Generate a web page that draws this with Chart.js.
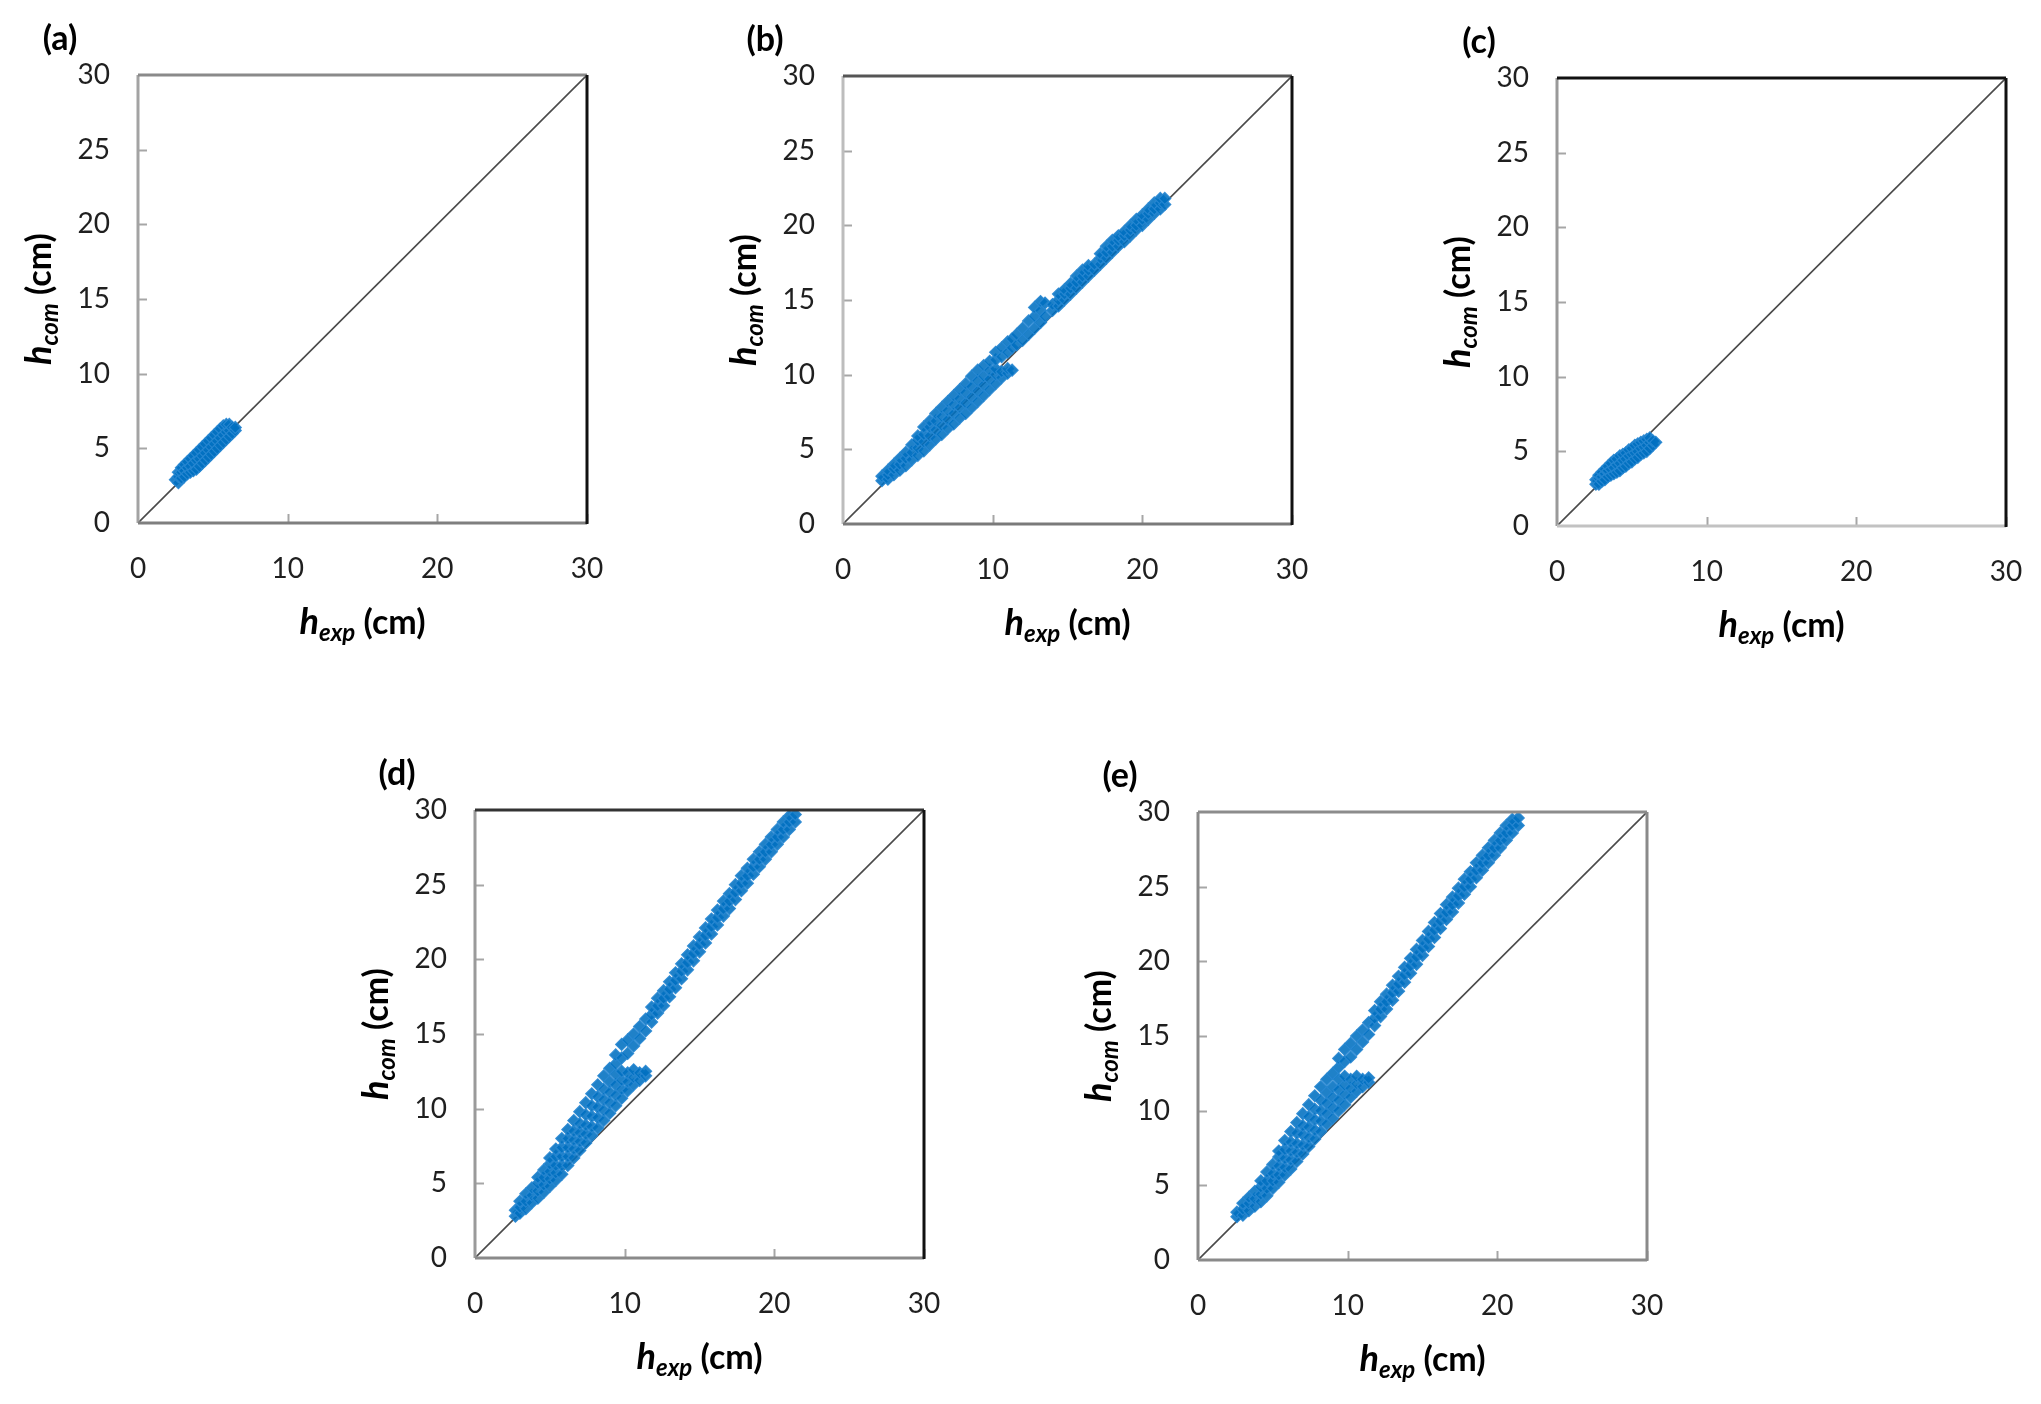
<!DOCTYPE html>
<html>
<head>
<meta charset="utf-8">
<script src="https://cdn.jsdelivr.net/npm/chart.js@4.4.1/dist/chart.umd.min.js"></script>
<style>
  html, body { margin:0; padding:0; background:#fff; }
  body { width:2041px; height:1404px; position:relative; overflow:hidden; }
  canvas { position:absolute; }
</style>
</head>
<body>
<canvas id="ch-a"></canvas>
<canvas id="ch-b"></canvas>
<canvas id="ch-c"></canvas>
<canvas id="ch-d"></canvas>
<canvas id="ch-e"></canvas>
<script>
// ====================== DATA ======================
const xTicks = [0, 10, 20, 30];
const yTicks = [0, 5, 10, 15, 20, 25, 30];
const lineExp = [0, 30];           // 1:1 line
const lineCom = [0, 30];

// each hExp column holds the hCom values plotted at that hExp
const expA = [2.5, 2.7, 2.9, 3.1, 3.3, 3.5, 3.7, 3.9, 4.1, 4.3, 4.5, 4.7, 4.9, 5.1, 5.3, 5.5, 5.7, 5.9, 6.1, 6.3, 6.5];
const comA = [[2.9], [2.7,3.1,3.4], [3.0,3.4,3.7], [3.1,3.5,3.9], [3.3,3.7,4.1], [3.4,3.8,4.3], [3.5,4.0,4.5],
  [3.6,4.2,4.7], [3.8,4.3,4.9], [4.0,4.5,5.1], [4.2,4.7,5.3], [4.4,4.9,5.5], [4.6,5.1,5.7], [4.8,5.3,5.9],
  [5.0,5.5,6.1], [5.2,5.7,6.3], [5.4,5.9,6.5], [5.6,6.1,6.6], [5.8,6.2,6.6], [6.0,6.4], [6.2,6.4]];

const expB = [2.6, 3.0, 3.4, 3.8, 4.2, 4.6, 5.0, 5.4, 5.8, 6.2, 6.6, 7.0, 7.4, 7.8, 8.2, 8.6, 9.0, 9.4, 9.8, 10.2,
  10.6, 11.0, 11.3, 11.6, 12.0, 12.4, 12.8, 13.2, 13.5, 14.0, 14.4, 14.8, 15.2, 15.6, 16.0, 16.4, 16.8, 17.2,
  17.6, 18.0, 18.4, 18.8, 19.2, 19.6, 20.0, 20.4, 20.8, 21.2, 21.5];
const comB = [[2.9,3.2], [3.0,3.3,3.6], [3.3,3.7,4.0], [3.6,4.0,4.4], [3.9,4.4,4.8], [4.3,4.8,5.3], [4.6,5.1,5.6,5.9],
  [4.9,5.5,6.0,6.5], [5.3,5.9,6.5,6.9], [5.7,6.3,6.9,7.4], [6.0,6.6,7.2,7.8], [6.4,7.0,7.6,8.2], [6.7,7.4,8.0,8.6],
  [7.1,7.8,8.4,9.0], [7.4,8.1,8.8,9.4], [7.8,8.5,9.2,9.9], [8.2,8.9,9.6,10.3], [8.6,9.3,9.9,10.6],
  [9.0,9.7,10.3,10.9], [9.4,10.0,10.4,11.0,11.5], [9.8,10.2,11.2,11.8], [10.1,10.4,11.5,12.2], [10.3,11.8,12.4],
  [12.0,12.7], [12.3,13.1], [12.7,13.6], [13.1,13.9,14.5], [13.5,14.3,14.9], [13.9,14.8], [14.3,14.7],
  [14.6,15.0,15.4], [15.0,15.4,15.7], [15.4,15.8,16.1], [15.8,16.2,16.6], [16.2,16.6,17.0], [16.6,17.0,17.3],
  [17.0,17.4], [17.4,17.8,18.1], [17.8,18.2,18.6], [18.2,18.6,19.0], [18.6,19.0,19.3], [18.9,19.3,19.6],
  [19.3,19.7,20.0], [19.7,20.0,20.4], [20.0,20.4,20.7], [20.4,20.8,21.1], [20.8,21.1,21.5], [21.1,21.5,21.8],
  [21.4,21.8]];

const expC = [2.6, 2.8, 3.0, 3.2, 3.4, 3.6, 3.8, 4.0, 4.2, 4.4, 4.6, 4.8, 5.0, 5.2, 5.4, 5.6, 5.8, 6.0, 6.2, 6.4, 6.6];
const comC = [[2.8,3.1], [2.8,3.2,3.4], [3.0,3.3,3.6], [3.1,3.5,3.8], [3.3,3.7,4.0], [3.4,3.8,4.2], [3.5,3.9,4.4],
  [3.6,4.1,4.5], [3.7,4.2,4.7], [3.9,4.4,4.8], [4.0,4.5,4.9], [4.2,4.7,5.1], [4.3,4.8,5.2], [4.5,4.9,5.4],
  [4.6,5.0,5.5], [4.8,5.2,5.6], [4.9,5.3,5.7], [5.0,5.4,5.8], [5.2,5.6,5.9], [5.4,5.7], [5.6]];

const expD = [2.7, 3.0, 3.4, 3.8, 4.2, 4.6, 5.0, 5.4, 5.8, 6.2, 6.6, 7.0, 7.4, 7.8, 8.2, 8.6, 9.0, 9.4, 9.8, 10.2,
  10.6, 11.0, 11.4, 11.8, 12.2, 12.6, 13.0, 13.4, 13.8, 14.2, 14.6, 15.0, 15.4, 15.8, 16.2, 16.6, 17.0, 17.4,
  17.8, 18.2, 18.6, 19.0, 19.4, 19.8, 20.2, 20.6, 21.0, 21.4];
const comD = [[2.8,3.2], [3.0,3.4,3.8], [3.3,3.8,4.3], [3.7,4.2,4.7], [4.0,4.5,5.0,5.4], [4.4,4.9,5.4,5.9],
  [4.8,5.3,5.8,6.3,6.7], [5.2,5.7,6.2,6.8,7.3], [5.6,6.2,6.8,7.4,8.0], [6.2,6.8,7.4,8.0,8.6],
  [6.7,7.3,7.9,8.5,9.2], [7.2,7.8,8.4,9.0,9.8], [7.7,8.3,8.9,9.6,10.4], [8.2,8.8,9.5,10.2,11.0],
  [8.7,9.4,10.1,10.8,11.6], [9.2,9.9,10.6,11.3,12.2], [9.7,10.4,11.1,11.8,12.7], [10.2,10.9,11.6,12.3,13.0,13.6],
  [10.7,11.3,11.9,12.5,13.4,14.3], [11.2,11.8,12.4,13.7,14.6], [11.6,12.1,12.6,14.2,15.0], [11.9,12.4,14.7,15.5],
  [12.2,12.5,15.2,16.0], [15.8,16.3,16.8], [16.4,16.9,17.4], [16.9,17.4,17.9], [17.5,18.0,18.5], [18.1,18.6,19.1],
  [18.7,19.2,19.7], [19.3,19.8,20.3], [19.9,20.4,20.9], [20.5,21.0,21.5], [21.1,21.6,22.1], [21.7,22.2,22.7],
  [22.3,22.8,23.3], [22.9,23.4,23.9], [23.4,23.9,24.4], [24.0,24.5,25.0], [24.6,25.1,25.6], [25.1,25.6,26.1],
  [25.7,26.2,26.7], [26.2,26.7,27.2], [26.7,27.2,27.7], [27.2,27.7,28.2], [27.7,28.2,28.7], [28.2,28.7,29.2],
  [28.7,29.2,29.6], [29.2,29.7]];

const expE = [2.6, 3.0, 3.4, 3.8, 4.2, 4.6, 5.0, 5.4, 5.8, 6.2, 6.6, 7.0, 7.4, 7.8, 8.2, 8.6, 9.0, 9.4, 9.8, 10.2,
  10.6, 11.0, 11.4, 11.8, 12.2, 12.6, 13.0, 13.4, 13.8, 14.2, 14.6, 15.0, 15.4, 15.8, 16.2, 16.6, 17.0, 17.4,
  17.8, 18.2, 18.6, 19.0, 19.4, 19.8, 20.2, 20.6, 21.0, 21.4];
const comE = [[2.9,3.2], [3.0,3.4,3.8], [3.3,3.8,4.2], [3.6,4.1,4.6], [3.9,4.4,4.9,5.3], [4.3,4.8,5.3,5.9],
  [4.8,5.3,5.8,6.4], [5.2,5.7,6.3,6.9,7.3], [5.7,6.2,6.8,7.4,8.0], [6.1,6.7,7.3,7.9,8.6],
  [6.6,7.2,7.8,8.5,9.2], [7.1,7.7,8.4,9.0,9.8], [7.6,8.2,8.9,9.6,10.4], [8.1,8.7,9.4,10.1,11.0],
  [8.6,9.3,10.0,10.7,11.6], [9.1,9.8,10.5,11.2,12.1], [9.5,10.2,10.9,11.6,12.5], [10.0,10.7,11.4,12.1,12.9,13.5],
  [10.4,11.1,11.7,12.3,13.3,14.1], [10.9,11.5,12.1,13.6,14.5], [11.3,11.8,12.3,14.1,15.0], [11.6,12.1,14.6,15.4],
  [11.9,12.2,15.1,15.9], [15.7,16.2,16.7], [16.3,16.8,17.3], [16.8,17.3,17.8], [17.4,17.9,18.4], [18.0,18.5,19.0],
  [18.6,19.1,19.6], [19.2,19.7,20.2], [19.8,20.3,20.8], [20.4,20.9,21.4], [21.0,21.5,22.0], [21.6,22.1,22.6],
  [22.2,22.7,23.2], [22.8,23.3,23.8], [23.3,23.8,24.3], [23.9,24.4,24.9], [24.5,25.0,25.5], [25.0,25.5,26.0],
  [25.6,26.1,26.6], [26.1,26.6,27.1], [26.6,27.1,27.6], [27.1,27.6,28.1], [27.6,28.1,28.6], [28.1,28.6,29.1],
  [28.6,29.1,29.5], [29.1,29.6]];

// ====================== LAYOUT ======================
const PLOT_W = 449, PLOT_H = 448;
const PAD_L = 135, PAD_T = 80, PAD_R = 22, PAD_B = 140;

// plot-area corner of each panel on the page, plus frame colours (left, bottom, top, right)
const panels = [
  { id:'ch-a', label:'(a)', left:138,  top:75,  exp:expA, com:comA, frame:['#a3a3a3','#7f7f7f','#8a8a8a','#111111'] },
  { id:'ch-b', label:'(b)', left:843,  top:76,  exp:expB, com:comB, frame:['#bdbdbd','#7a7a7a','#555555','#111111'] },
  { id:'ch-c', label:'(c)', left:1557, top:78,  exp:expC, com:comC, frame:['#9a9a9a','#c2c2c2','#111111','#111111'] },
  { id:'ch-d', label:'(d)', left:475,  top:810, exp:expD, com:comD, frame:['#9a9a9a','#8a8a8a','#333333','#111111'] },
  { id:'ch-e', label:'(e)', left:1198, top:812, exp:expE, com:comE, frame:['#8a8a8a','#8a8a8a','#8c8c8c','#8a8a8a'] },
];

function toPoints(exp, com) {
  const pts = [];
  exp.forEach((x, i) => com[i].forEach(y => pts.push({ x, y })));
  return pts;
}

// h_sub (cm) with italic subscript
function drawAxisTitle(ctx, cx, cy, sub) {
  const fMain = 'italic bold 36px Lato', fSub = 'italic bold 24px Lato', fUnit = 'bold 34px Lato';
  ctx.font = fMain; const wH = ctx.measureText('h').width;
  ctx.font = fSub;  const wS = ctx.measureText(sub).width;
  ctx.font = fUnit; const wU = ctx.measureText(' (cm)').width;
  let x = cx - (wH + wS + wU) / 2;
  const base = cy + 12;
  ctx.fillStyle = '#000';
  ctx.textAlign = 'left'; ctx.textBaseline = 'alphabetic';
  ctx.font = fMain; ctx.fillText('h', x, base); x += wH;
  ctx.font = fSub;  ctx.fillText(sub, x, base + 7); x += wS;
  ctx.font = fUnit; ctx.fillText(' (cm)', x, base);
}

const panelDecor = {
  id: 'panelDecor',
  afterDatasetsDraw(chart, args, opts) {
    const { ctx, chartArea: a, scales: { x, y } } = chart;
    ctx.save();
    // small inward tick marks
    ctx.lineWidth = 2;
    ctx.strokeStyle = '#a6a6a6';
    yTicks.slice(1, -1).forEach(v => {
      const py = Math.round(y.getPixelForValue(v)) + 0.5;
      ctx.beginPath(); ctx.moveTo(a.left, py); ctx.lineTo(a.left + 9, py); ctx.stroke();
    });
    xTicks.slice(1).forEach(v => {
      const px = Math.round(x.getPixelForValue(v)) + 0.5;
      ctx.beginPath(); ctx.moveTo(px, a.bottom); ctx.lineTo(px, a.bottom - 9); ctx.stroke();
    });
    // frame
    const [cL, cB, cT, cR] = opts.frame;
    ctx.lineWidth = 3;
    const seg = (c, x1, y1, x2, y2) => { ctx.strokeStyle = c; ctx.beginPath(); ctx.moveTo(x1, y1); ctx.lineTo(x2, y2); ctx.stroke(); };
    seg(cL, a.left, a.top, a.left, a.bottom);
    seg(cB, a.left, a.bottom, a.right, a.bottom);
    seg(cT, a.left, a.top, a.right, a.top);
    seg(cR, a.right, a.top, a.right, a.bottom + 1);
    ctx.restore();
  },
  afterDraw(chart, args, opts) {
    const { ctx, chartArea: a } = chart;
    ctx.save();
    drawAxisTitle(ctx, (a.left + a.right) / 2, a.bottom + 99, 'exp');
    ctx.translate(a.left - 99, (a.top + a.bottom) / 2);
    ctx.rotate(-Math.PI / 2);
    drawAxisTitle(ctx, 0, 0, 'com');
    ctx.restore();
    ctx.save();
    ctx.font = 'bold 34px Lato';
    ctx.fillStyle = '#000';
    ctx.textAlign = 'center'; ctx.textBaseline = 'middle';
    ctx.fillText(opts.label, a.left - 78, a.top - 36);
    ctx.restore();
  }
};

panels.forEach(p => {
  const cvs = document.getElementById(p.id);
  cvs.width = PAD_L + PLOT_W + PAD_R;
  cvs.height = PAD_T + PLOT_H + PAD_B;
  cvs.style.left = (p.left - PAD_L) + 'px';
  cvs.style.top = (p.top - PAD_T) + 'px';

  new Chart(cvs, {
    type: 'scatter',
    data: {
      datasets: [
        { type:'scatter', data: toPoints(p.exp, p.com), pointStyle:'rectRot', pointRadius:6,
          borderColor:'rgba(40,135,210,0.9)', borderWidth:1.2, backgroundColor:'rgba(0,112,192,0.88)', order:1 },
        { type:'line', data: lineExp.map((v, i) => ({ x:v, y:lineCom[i] })), borderColor:'#4a4a4a',
          borderWidth:1.6, pointRadius:0, order:2 }
      ]
    },
    options: {
      responsive:false, animation:false,
      layout: { autoPadding:false, padding: { left:0, top:PAD_T, right:PAD_R, bottom:0 } },
      plugins: { legend:{ display:false }, tooltip:{ enabled:false }, panelDecor: { label:p.label, frame:p.frame } },
      scales: {
        x: { type:'linear', min:0, max:30,
             afterFit: s => { s.height = PAD_B; s.paddingLeft = 0; s.paddingRight = 0; },
             grid:{ display:false, drawTicks:false }, border:{ display:false },
             ticks:{ stepSize:10, padding:29, color:'#1f1f1f', font:{ family:'Lato', size:28 } } },
        y: { type:'linear', min:0, max:30,
             afterFit: s => { s.width = PAD_L; s.paddingTop = 0; s.paddingBottom = 0; },
             grid:{ display:false, drawTicks:false }, border:{ display:false },
             ticks:{ stepSize:5, padding:28, color:'#1f1f1f', font:{ family:'Lato', size:28 } } }
      }
    },
    plugins: [panelDecor]
  });
});
</script>
</body>
</html>
